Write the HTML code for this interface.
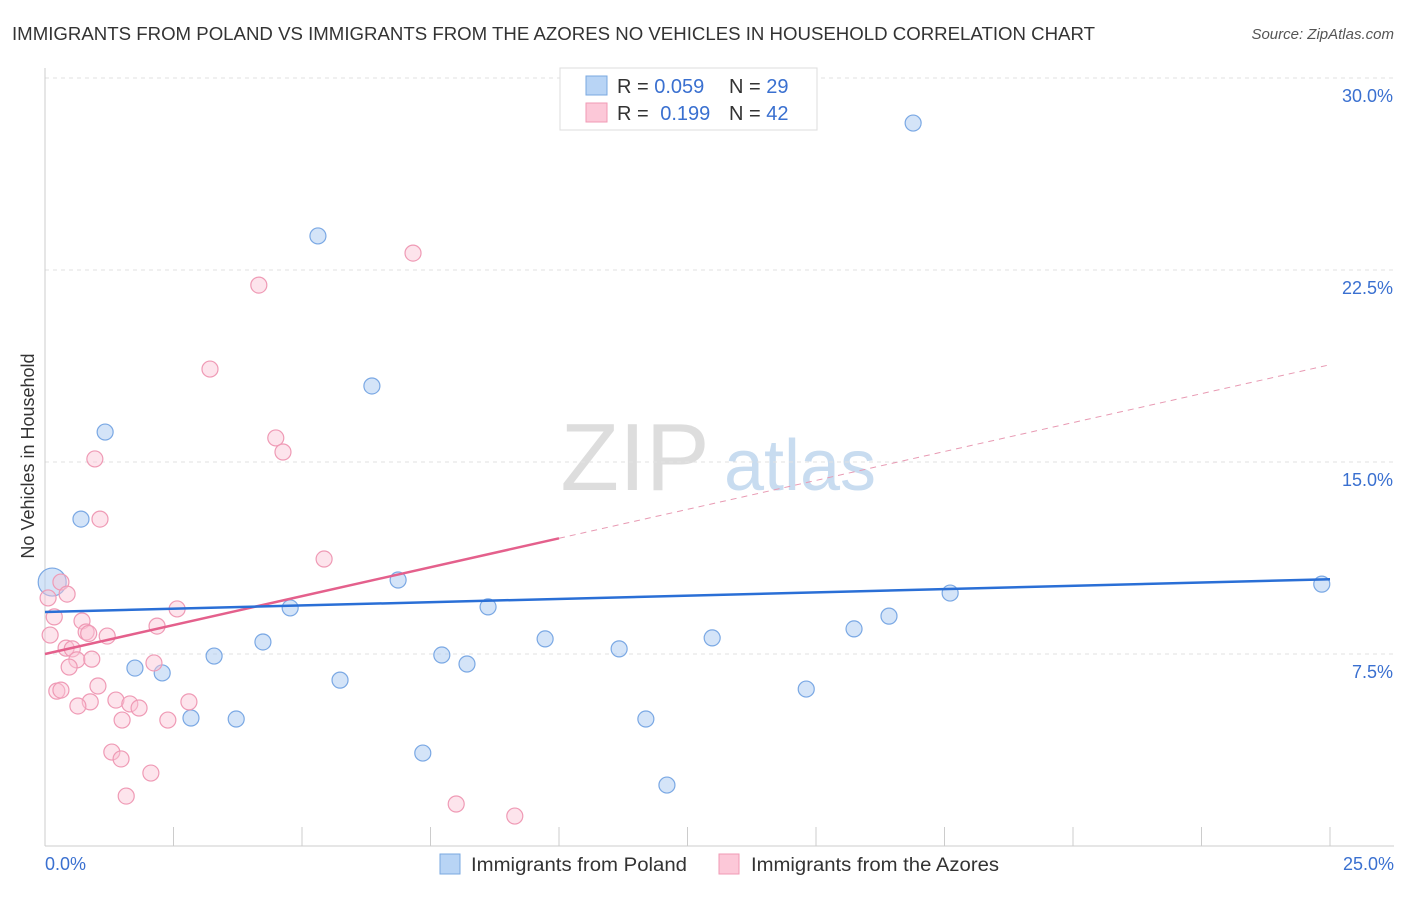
<!DOCTYPE html>
<html><head><meta charset="utf-8">
<style>
body{margin:0;background:#fff;font-family:"Liberation Sans",sans-serif;}
svg text{font-family:"Liberation Sans",sans-serif;}
</style></head>
<body>
<svg id="c" width="1406" height="892">
<text x="12" y="40" font-size="18" fill="#333" textLength="1083" lengthAdjust="spacingAndGlyphs">IMMIGRANTS FROM POLAND VS IMMIGRANTS FROM THE AZORES NO VEHICLES IN HOUSEHOLD CORRELATION CHART</text>
<text x="1394" y="39" font-size="15" fill="#555" font-style="italic" text-anchor="end">Source: ZipAtlas.com</text>
<text x="34" y="456" font-size="18" fill="#333" text-anchor="middle" transform="rotate(-90 34 456)">No Vehicles in Household</text>
<g>
<text x="635" y="490" font-size="96" fill="#ddd" text-anchor="middle" font-family="Liberation Serif">ZIP</text>
<text x="800" y="490" font-size="72" fill="#c8dcf0" text-anchor="middle">atlas</text>
</g>
<g id="grid"></g><g id="marks"></g>
<g>
<rect x="560" y="68" width="257" height="62" fill="#fff" stroke="#ddd"/>
<rect x="586" y="76" width="21" height="19" fill="#b8d4f5" stroke="#7aa8e0"/>
<rect x="586" y="103" width="21" height="19" fill="#fcc8d8" stroke="#f09ab5"/>
<text x="617" y="93" font-size="20" fill="#333">R = <tspan fill="#3a70d0">0.059</tspan></text>
<text x="729" y="93" font-size="20" fill="#333">N = <tspan fill="#3a70d0">29</tspan></text>
<text x="617" y="120" font-size="20" fill="#333">R = <tspan fill="#3a70d0" dx="6">0.199</tspan></text>
<text x="729" y="120" font-size="20" fill="#333">N = <tspan fill="#3a70d0">42</tspan></text>
</g>
<g>
<rect x="440" y="854" width="20" height="20" fill="#b8d4f5" stroke="#7aa8e0"/>
<text x="471" y="871" font-size="19" fill="#333" textLength="216" lengthAdjust="spacingAndGlyphs">Immigrants from Poland</text>
<rect x="719" y="854" width="20" height="20" fill="#fcc8d8" stroke="#f09ab5"/>
<text x="751" y="871" font-size="19" fill="#333" textLength="248" lengthAdjust="spacingAndGlyphs">Immigrants from the Azores</text>
</g>
<text x="45" y="870" font-size="18" fill="#3a70d0">0.0%</text>
<text x="1394" y="870" font-size="18" fill="#3a70d0" text-anchor="end">25.0%</text>
</svg>
<script>
const yTicks=[7.5,15,22.5,30];
const yTickLabels=["7.5%","15.0%","22.5%","30.0%"];
const polandX=[16.89,5.31,6.36,1.17,0.70,0.14,6.87,4.77,8.62,4.24,9.73,12.98,15.74,16.42,17.61,24.84,1.75,2.28,3.29,7.72,8.21,11.17,5.74,14.81,2.84,3.72,11.69,7.35,12.10];
const polandY=[28.24,23.83,17.97,16.17,12.77,10.31,10.39,9.30,9.34,7.97,8.09,8.13,8.48,8.98,9.88,10.23,6.95,6.76,7.42,7.46,7.11,7.70,6.48,6.13,5.00,4.96,4.96,3.63,2.38];
const azoresX=[7.16,4.16,3.21,4.49,4.63,0.97,1.07,5.43,0.31,0.43,0.06,0.18,2.57,0.72,0.80,2.18,1.21,0.10,0.41,0.53,0.62,0.91,2.12,0.47,1.03,0.23,0.31,1.38,0.88,2.80,1.65,1.83,0.64,1.50,2.39,1.30,1.48,2.06,1.58,8.00,9.14,0.85];
const azoresY=[23.16,21.91,18.63,15.94,15.39,15.12,12.77,11.21,10.31,9.84,9.69,8.95,9.26,8.79,8.36,8.59,8.20,8.24,7.73,7.70,7.27,7.30,7.15,6.99,6.25,6.05,6.09,5.70,5.63,5.63,5.55,5.39,5.47,4.92,4.92,3.67,3.40,2.85,1.95,1.64,1.17,8.30];
const polandTrend=[9.14,10.42];
const azoresTrend=[7.5,18.8];
const NS="http://www.w3.org/2000/svg";
const X=v=>45+v*51.4, Y=v=>846-v*25.6;
function mk(t,a,p){const e=document.createElementNS(NS,t);for(const k in a)e.setAttribute(k,a[k]);p.appendChild(e);return e;}
const g=document.getElementById('grid'),m=document.getElementById('marks');
yTicks.forEach((t,i)=>{
 const l=mk('line',{x1:45,x2:1394,y1:Y(t),y2:Y(t),stroke:'#e2e2e2','stroke-dasharray':'4,4'},g);
 
 
 const tx=mk('text',{x:1393,y:Y(t)+24,'font-size':18,fill:'#3a70d0','text-anchor':'end'},g);tx.textContent=yTickLabels[i];
 
 
});
const ax=mk('line',{x1:45,x2:45,y1:68,y2:846,stroke:'#ccc'},g);


const bx=mk('line',{x1:45,x2:1394,y1:846,y2:846,stroke:'#ccc'},g);


for(let i=0;i<=10;i++){const t=mk('line',{x1:X(i*2.5),x2:X(i*2.5),y1:827,y2:846,stroke:'#ccc'},g);
 
 }
polandX.forEach((x,i)=>{const c=mk('circle',{cx:X(x),cy:Y(polandY[i]),r:i==5?14:8,fill:'rgba(170,202,242,0.5)',stroke:'#7aa8e4','stroke-width':1.2},m);
 
 });
azoresX.forEach((x,i)=>{const c=mk('circle',{cx:X(x),cy:Y(azoresY[i]),r:8,fill:'rgba(250,195,213,0.45)',stroke:'#ef9ab5','stroke-width':1.2},m);
 
 });
const at=v=>azoresTrend[0]+(azoresTrend[1]-azoresTrend[0])*v/25;
const p1=mk('line',{x1:X(0),y1:Y(at(0)),x2:X(10),y2:Y(at(10)),stroke:'#e4608c','stroke-width':2.5},m);


const p2=mk('line',{x1:X(10),y1:Y(at(10)),x2:X(25),y2:Y(at(25)),stroke:'#e89ab3','stroke-width':1,'stroke-dasharray':'6,5'},m);


const b=mk('line',{x1:X(0),y1:Y(polandTrend[0]),x2:X(25),y2:Y(polandTrend[1]),stroke:'#2a6fd6','stroke-width':2.5},m);


</script>
</body></html>
